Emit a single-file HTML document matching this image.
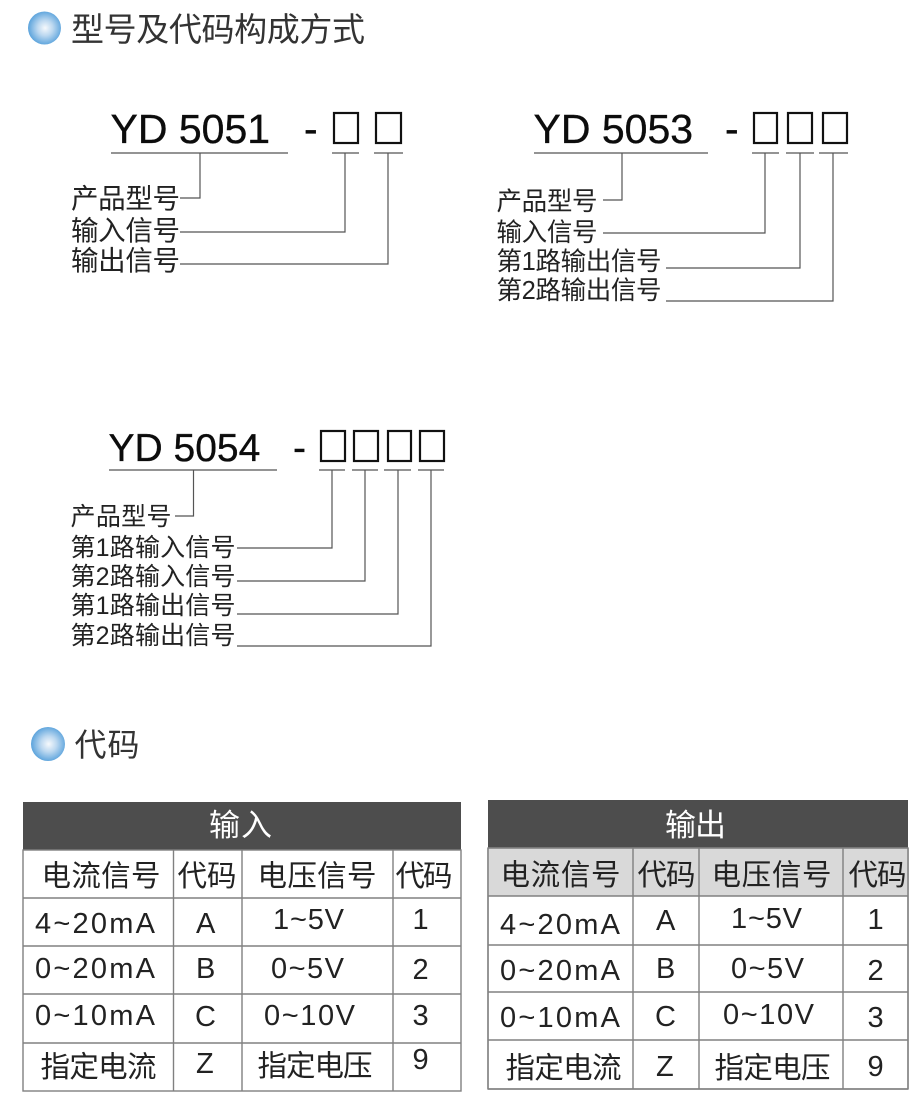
<!DOCTYPE html>
<html lang="zh"><head><meta charset="utf-8"><title>型号及代码构成方式</title>
<style>
html,body{margin:0;padding:0;background:#fff}
svg{display:block}
text{font-family:"Liberation Sans","Noto Sans CJK SC",sans-serif;fill:#222;font-weight:400}
.l{stroke:#555;stroke-width:1.2;fill:none}
.b{fill:none;stroke:#111;stroke-width:2.2}
.m{fill:#0c0c0c;stroke:#0c0c0c;stroke-width:.35}
.t{stroke:#808080;stroke-width:1.4;fill:none}
</style></head><body>
<svg width="920" height="1113" viewBox="0 0 920 1113" xmlns="http://www.w3.org/2000/svg">
<defs><radialGradient id="g" cx="52%" cy="50%" r="52%"><stop offset="0" stop-color="#f6f9fc"/><stop offset=".45" stop-color="#bcd8f0"/><stop offset="1" stop-color="#5ba3dc"/></radialGradient></defs>

<circle cx="44.5" cy="28" r="16.500" fill="url(#g)"/>
<text x="71" y="41" font-size="33" textLength="294" lengthAdjust="spacing" style="fill:#333">型号及代码构成方式</text>

<!-- YD 5051 -->
<text class="m" x="110.500" y="143" font-size="41">YD 5051</text>
<text class="m" x="304" y="143" font-size="41">-</text>
<rect class="b" x="334" y="113" width="24" height="30"/><rect class="b" x="376" y="113" width="25" height="30"/>
<path class="l" d="M111 153H288M332 153H359M374 153H403M200 153V198H180M345 153V232H180M388 153V264H180"/>
<g font-size="27.500">
<text x="71" y="208" textLength="109">产品型号</text>
<text x="71" y="240" textLength="109">输入信号</text>
<text x="71" y="270" textLength="109">输出信号</text>
</g>

<!-- YD 5053 -->
<text class="m" x="533.500" y="143" font-size="41">YD 5053</text>
<text class="m" x="725" y="143" font-size="41">-</text>
<rect class="b" x="754" y="113" width="23" height="30"/><rect class="b" x="788" y="113" width="24" height="30"/><rect class="b" x="823" y="113" width="24" height="30"/>
<path class="l" d="M534 153H708M752 153H779M786 153H814M819 153H848M622 153V200H603M765 153V233H603M800 153V268H666M833 153V301H666"/>
<g font-size="25.500">
<text x="496.500" y="210" textLength="101">产品型号</text>
<text x="496.500" y="241" textLength="101">输入信号</text>
<text x="496.500" y="270" textLength="165">第1路输出信号</text>
<text x="496.500" y="299" textLength="165">第2路输出信号</text>
</g>

<!-- YD 5054 -->
<text class="m" x="108.500" y="461" font-size="39">YD 5054</text>
<text class="m" x="293" y="461" font-size="39">-</text>
<rect class="b" x="321" y="431" width="24" height="30"/><rect class="b" x="354" y="431" width="24" height="30"/><rect class="b" x="388" y="431" width="23" height="30"/><rect class="b" x="420" y="431" width="24" height="30"/>
<path class="l" d="M109 470H277M319 470H345M352 470H378M384 470H411M418 470H444M193.500 470V516H175M332 470V548H237M365 470V581H237M398 470V614H237M431 470V646H237"/>
<g font-size="25">
<text x="70.500" y="525" textLength="101">产品型号</text>
<text x="70.500" y="556" textLength="165">第1路输入信号</text>
<text x="70.500" y="585" textLength="165">第2路输入信号</text>
<text x="70.500" y="614" textLength="165">第1路输出信号</text>
<text x="70.500" y="644" textLength="165">第2路输出信号</text>
</g>

<!-- 代码 -->
<circle cx="48" cy="744" r="17" fill="url(#g)"/>
<text x="74.500" y="756" font-size="32" textLength="65" style="fill:#333">代码</text>

<!-- Input table -->
<rect x="23" y="802" width="438" height="48" fill="#4d4d4d"/>
<rect class="t" x="23" y="850" width="438" height="241" fill="#fff"/>
<path class="t" d="M23 898H461M23 946H461M23 994H461M23 1043H461M173.500 850V1091M242 850V1091M393 850V1091"/>
<text x="209" y="836" font-size="31" textLength="63" style="fill:#fff">输入</text>
<g font-size="29.500">
<text x="41.500" y="886" textLength="119">电流信号</text>
<text x="177.500" y="886" textLength="59">代码</text>
<text x="257.500" y="886" textLength="119">电压信号</text>
<text x="395.500" y="886" textLength="57">代码</text>
<text x="40.500" y="1077" textLength="116">指定电流</text>
<text x="257.500" y="1076" textLength="115">指定电压</text>
</g>
<g font-size="29">
<text x="35" y="933" textLength="120">4~20mA</text>
<text x="35" y="978" textLength="120">0~20mA</text>
<text x="35" y="1025" textLength="120">0~10mA</text>
<text x="196" y="933">A</text><text x="196" y="978">B</text><text x="195" y="1026">C</text><text x="196" y="1073">Z</text>
<text x="273" y="929" textLength="71">1~5V</text>
<text x="271" y="978" textLength="73">0~5V</text>
<text x="264" y="1025" textLength="91">0~10V</text>
<text x="412.500" y="929">1</text><text x="412.500" y="979">2</text><text x="412.500" y="1025">3</text><text x="412.500" y="1069">9</text>
</g>

<!-- Output table -->
<rect x="488" y="800" width="420" height="48" fill="#4d4d4d"/>
<rect class="t" x="488" y="848" width="420" height="241" fill="#fff"/>
<rect x="489" y="849" width="418" height="47" fill="#d9d9d9"/>
<path class="t" d="M488 848H908M488 896H908M488 945H908M488 992H908M488 1040H908M488 1089H908M908 848V1089M488 848V1089M633 848V1089M699 848V1089M843 848V1089"/>
<text x="665" y="836" font-size="31" textLength="61" style="fill:#fff">输出</text>
<g font-size="29.500">
<text x="500.500" y="885" textLength="120">电流信号</text>
<text x="637.500" y="885" textLength="58">代码</text>
<text x="711.500" y="885" textLength="120">电压信号</text>
<text x="848.500" y="885" textLength="58">代码</text>
<text x="505.500" y="1078" textLength="116">指定电流</text>
<text x="714.500" y="1078" textLength="116">指定电压</text>
</g>
<g font-size="29">
<text x="500" y="934" textLength="120">4~20mA</text>
<text x="500" y="980" textLength="120">0~20mA</text>
<text x="500" y="1027" textLength="120">0~10mA</text>
<text x="656" y="930">A</text><text x="656" y="978">B</text><text x="655" y="1026">C</text><text x="656" y="1076">Z</text>
<text x="731" y="928" textLength="71">1~5V</text>
<text x="731" y="978" textLength="73">0~5V</text>
<text x="723" y="1024" textLength="91">0~10V</text>
<text x="867.500" y="929">1</text><text x="867.500" y="980">2</text><text x="867.500" y="1027">3</text><text x="867.500" y="1076">9</text>
</g>
</svg>
</body></html>
